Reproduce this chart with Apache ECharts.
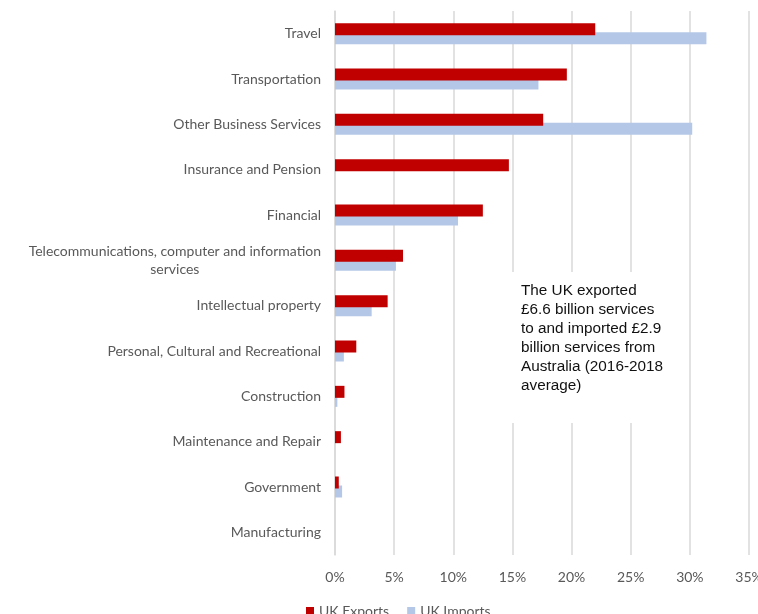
<!DOCTYPE html>
<html>
<head>
<meta charset="utf-8">
<script src="https://cdn.jsdelivr.net/npm/echarts@6/dist/echarts.min.js"></script>
<style>
  html, body { margin: 0; padding: 0; background: #ffffff; }
  #chart { width: 758px; height: 614px; }
</style>
</head>
<body>
<div id="chart"></div>
<script>
// Service sectors, top to bottom
const categories = [
  'Travel',
  'Transportation',
  'Other Business Services',
  'Insurance and Pension',
  'Financial',
  'Telecommunications, computer and information\nservices',
  'Intellectual property',
  'Personal, Cultural and Recreational',
  'Construction',
  'Maintenance and Repair',
  'Government',
  'Manufacturing'
];

// Share of total trade in services (%)
const ukExports = [22.0, 19.6, 17.6, 14.7, 12.5, 5.75, 4.45, 1.8, 0.8, 0.5, 0.32, 0];
const ukImports = [31.4, 17.2, 30.2, 0, 10.4, 5.15, 3.1, 0.75, 0.2, 0, 0.6, 0];

const xTicks = { min: 0, max: 35, interval: 5 };

const noteLines = [
  'The UK exported',
  '£6.6 billion services',
  'to and imported £2.9',
  'billion services from',
  'Australia (2016-2018',
  'average)'
];

const labelFont = 'Lato, "Open Sans", sans-serif';
const grey = '#595959';

const chart = echarts.init(document.getElementById('chart'), null, { renderer: 'canvas' });

chart.setOption({
  backgroundColor: '#ffffff',
  animation: false,
  grid: { left: 335, right: 9, top: 11, bottom: 59, containLabel: false, outerBoundsMode: 'none' },
  legend: {
    left: 301,
    top: 599,
    itemWidth: 8,
    itemHeight: 8,
    itemGap: 18,
    icon: 'rect',
    textStyle: { color: grey, fontSize: 14, fontFamily: labelFont },
    data: ['UK Exports', 'UK Imports']
  },
  xAxis: {
    type: 'value',
    min: xTicks.min,
    max: xTicks.max,
    interval: xTicks.interval,
    axisLine: { show: false },
    axisTick: { show: false },
    axisLabel: {
      formatter: '{value}%',
      color: grey,
      fontSize: 14,
      fontFamily: labelFont,
      margin: 15
    },
    splitLine: { show: true, lineStyle: { color: '#d9d9d9', width: 1.5 } }
  },
  yAxis: {
    type: 'category',
    inverse: true,
    data: categories,
    axisLine: { show: true, lineStyle: { color: '#d9d9d9', width: 1.5 } },
    axisTick: { show: false },
    axisLabel: {
      color: grey,
      fontSize: 14,
      fontFamily: labelFont,
      margin: 14,
      lineHeight: 18,
      formatter: function (v) {
        return v.split('\n').map(function (s) { return '{c|' + s + '}'; }).join('\n');
      },
      rich: {
        c: { align: 'center', color: grey, fontSize: 14, fontFamily: labelFont, lineHeight: 18 }
      }
    }
  },
  graphic: [
    {
      type: 'rect',
      left: 506,
      top: 272,
      shape: { width: 180, height: 151 },
      style: { fill: '#ffffff' },
      z: 1
    },
    {
      type: 'text',
      left: 521,
      top: 281,
      z: 2,
      style: {
        text: noteLines.join('\n'),
        fill: '#111111',
        font: '15.3px "Liberation Sans", Arial, sans-serif',
        lineHeight: 19
      }
    }
  ],
  series: [
    {
      name: 'UK Exports',
      type: 'bar',
      data: ukExports,
      barWidth: 12,
      barGap: '-25%',
      itemStyle: { color: '#c00000' },
      z: 3
    },
    {
      name: 'UK Imports',
      type: 'bar',
      data: ukImports,
      barWidth: 12,
      barGap: '-25%',
      itemStyle: { color: '#b4c7e7' },
      z: 2
    }
  ]
});
</script>
</body>
</html>
